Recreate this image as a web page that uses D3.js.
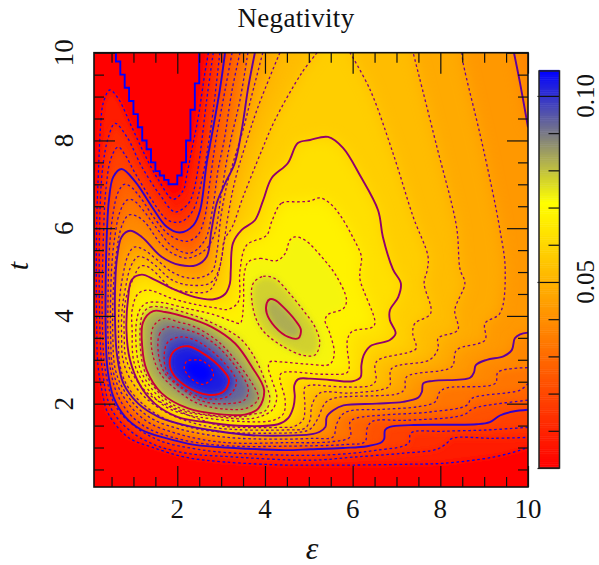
<!DOCTYPE html>
<html>
<head>
	<title>Negativity</title>
	<script src="https://d3js.org/d3.v7.min.js" charset="utf-8"></script>
	<style>
		html, body { margin: 0; padding: 0; background: #fff; }
		text { font-family: "Liberation Serif", serif; fill: #111; }
	</style>
</head>
<body>
	<div id="chart"></div>
	<script>
		// contours as [epsilon, t]
		// a third element marks a point that only closes the filled region
		var stair = [[0.6,10],[0.6,9.8],[0.7,9.8],[0.7,9.5],[0.8,9.5],[0.8,9.2],[0.9,9.2],[0.9,8.9],[1,8.9],[1,8.6],[1.1,8.6],[1.1,8.3],[1.2,8.3],[1.2,8],[1.3,8],[1.3,7.8],[1.4,7.8],[1.4,7.5],[1.5,7.5],[1.5,7.3],[1.6,7.3],[1.6,7.2],[1.7,7.2],[1.7,7.1],[1.8,7.1],[1.8,7],[2,7],[2,7.2],[2.1,7.2],[2.1,7.5],[2.2,7.5],[2.2,8],[2.3,8],[2.3,8.7],[2.4,8.7],[2.4,9.3],[2.5,9.3],[2.5,10]];

		var c005 = [[[2.71,10],[2.63,9.54],[2.48,8.54],[2.33,7.78],[2.21,7.17],[2.14,6.87],[1.91,6.66],[1.57,7.1],[1.26,7.67],[0.96,8.31],[0.65,8.96],[0.46,9.15],[0.31,8.85],[0.25,8.31],[0.2,7.26],[0.16,6.02],[0.16,3.9],[0.19,2.88],[0.28,2.31],[0.42,1.78],[0.88,1.23],[1.42,1.01],[2.18,0.78],[3.09,0.67],[4.46,0.6],[5.03,0.6],[6,0.6],[7.31,0.62],[8.06,0.64],[9.2,0.78],[9.82,0.94],[10,1.01],[11,1.01,0],[11,11,0],[2.71,11,0]]];
		var c010 = [[[2.82,10],[2.67,8.92],[2.48,7.4],[2.36,6.8],[2.25,6.56],[1.95,6.37],[1.61,6.75],[1.19,7.4],[0.85,8.08],[0.58,8.39],[0.43,8.08],[0.31,7.48],[0.24,6.49],[0.23,3.9],[0.3,2.69],[0.49,1.89],[0.91,1.39],[1.51,1.05],[2.27,0.86],[3.04,0.8],[5.03,0.71],[6,0.78],[7.15,0.87],[7.92,0.96],[8.15,1.1],[8.27,1.21],[9.2,1.21],[10,1.23],[11,1.23,0],[11,11,0],[2.82,11,0]]];
		var c015 = [[[2.97,10],[2.78,8.39],[2.56,7.1],[2.36,6.41],[2.1,6.15],[1.79,6.18],[1.42,6.64],[1.04,7.25],[0.81,7.67],[0.65,7.85],[0.49,7.6],[0.37,6.87],[0.32,5.96],[0.29,3.9],[0.37,2.69],[0.6,1.93],[1.1,1.43],[1.67,1.13],[2.35,0.98],[3.04,0.89],[5.03,0.82],[6,0.87],[6.55,0.94],[7.15,1.03],[7.29,1.12],[7.33,1.33],[8.06,1.37],[9.06,1.4],[10,1.46],[11,1.46,0],[11,11,0],[2.97,11,0]]];
		var c020 = [[[3.09,10],[2.97,9.15],[2.78,8.08],[2.67,7.48],[2.52,6.41],[2.37,6.07],[2.06,5.9],[1.76,6.03],[1.42,6.49],[1.04,7.06],[0.73,7.35],[0.54,7.17],[0.44,6.64],[0.4,6.03],[0.37,5.04],[0.37,3.52],[0.41,2.77],[0.54,2.16],[0.81,1.7],[1.19,1.4],[1.72,1.22],[2.4,1.06],[3.3,0.99],[4.46,0.94],[5.03,0.96],[5.78,0.99],[6.33,1.03],[6.66,1.12],[6.72,1.2],[6.74,1.4],[6.85,1.47],[7.31,1.51],[8.06,1.52],[8.83,1.53],[9.13,1.58],[9.36,1.73],[9.66,1.82],[10,1.86],[11,1.86,0],[11,11,0],[3.09,11,0]]];
		var c025 = [[[3.25,10],[3.09,9.15],[2.88,8.01],[2.75,7.1],[2.61,6.18],[2.45,5.82],[2.2,5.7],[1.83,5.84],[1.49,6.21],[1.15,6.71],[0.92,6.96],[0.79,7],[0.65,6.82],[0.53,6.3],[0.45,5.5],[0.42,4.36],[0.42,3.52],[0.48,2.76],[0.62,2.24],[0.9,1.78],[1.29,1.46],[1.83,1.25],[2.52,1.1],[3.32,1.03],[4.46,1.03],[5.87,1.07],[6.28,1.13],[6.33,1.44],[6.46,1.6],[7.23,1.62],[8.52,1.74],[8.75,1.89],[9.06,1.96],[10,2.08],[11,2.08,0],[11,11,0],[3.25,11,0]]];
		var c030 = [[[3.43,10],[3.25,9.15],[3.07,8.01],[2.93,7.33],[2.8,6.41],[2.63,5.73],[2.29,5.43],[1.88,5.59],[1.56,5.96],[1.22,6.41],[0.99,6.64],[0.85,6.64],[0.69,6.37],[0.58,5.84],[0.5,5.04],[0.48,3.52],[0.53,2.77],[0.69,2.31],[0.99,1.87],[1.38,1.55],[1.95,1.33],[2.63,1.17],[3.32,1.1],[4.46,1.11],[5.48,1.13],[5.94,1.24],[5.94,1.58],[6.09,1.67],[6.69,1.74],[7.76,1.81],[8.6,1.96],[8.72,2.12],[9.82,2.31],[10,2.46],[11,2.46,0],[11,11,0],[3.43,11,0]]];
		var c035 = [[[3.61,10],[3.43,8.92],[3.22,8.01],[3.11,7.44],[3,6.76],[2.84,5.84],[2.63,5.5],[2.24,5.32],[1.88,5.43],[1.61,5.66],[1.26,6.14],[1.06,6.28],[0.89,6.3],[0.74,6.07],[0.62,5.5],[0.54,4.59],[0.53,3.52],[0.58,2.81],[0.74,2.38],[1.06,1.94],[1.47,1.63],[2.06,1.42],[2.75,1.28],[3.43,1.21],[4.46,1.19],[5.1,1.21],[5.55,1.24],[5.64,1.55],[5.83,1.8],[6.69,1.87],[7.49,1.93],[7.88,2.04],[7.99,2.27],[8.15,2.36],[9.25,2.46],[9.32,2.72],[10,2.82],[11,2.82,0],[11,11,0],[3.61,11,0]]];
		var c040 = [[[3.77,10],[3.62,9.22],[3.47,8.24],[3.31,7.48],[3.09,7.02],[2.9,6.57],[2.78,5.96],[2.67,5.35],[2.44,5.16],[2.06,5.16],[1.64,5.35],[1.19,5.8],[0.92,5.94],[0.73,5.8],[0.63,5.35],[0.59,4.9],[0.58,3.9],[0.62,3.15],[0.77,2.46],[1.11,2],[1.57,1.7],[2.17,1.51],[2.93,1.37],[3.7,1.28],[4.46,1.27],[5.03,1.3],[5.25,1.36],[5.38,1.47],[5.41,1.7],[5.56,1.85],[5.79,1.96],[6.55,2],[7.15,2.04],[7.5,2.14],[7.58,2.27],[7.61,2.46],[7.84,2.52],[8.68,2.59],[8.77,2.72],[8.81,2.88],[9.06,3],[9.44,3.08],[9.63,3.22],[9.7,3.49],[9.82,3.58],[10,3.62],[11,3.62,0],[11,8.3,0],[10,8.3],[9.82,9.3],[9.68,10],[9.68,11,0],[3.77,11,0]]];
		var c045 = [[[3.95,10],[3.7,9.03],[3.5,8.24],[3.29,7.55],[3.13,6.98],[3,6.3],[2.91,5.5],[2.81,5.04],[2.63,4.91],[2.29,4.86],[1.88,5],[1.49,5.32],[1.22,5.52],[1.02,5.57],[0.88,5.39],[0.76,4.93],[0.68,4.36],[0.66,3.52],[0.69,2.88],[0.85,2.42],[1.17,2.03],[1.65,1.69],[2.29,1.46],[3.04,1.35],[4.46,1.33],[4.8,1.35],[5.03,1.42],[5.19,1.63],[5.37,2.01],[5.55,2.12],[7.08,2.24],[7.19,2.35],[7.23,2.61],[8.26,2.84],[8.37,3.22],[9.02,3.45],[9.02,3.83],[9.36,4.06],[9.48,5.04],[9.36,5.96],[8.97,7.86],[8.52,9.77],[8.49,10],[8.49,11,0],[3.95,11,0]]];
		var c050 = [[[4.34,10],[3.84,8.76],[3.54,7.85],[3.32,7.1],[3.16,6.3],[3.02,5.39],[2.93,5],[2.75,4.75],[2.29,4.7],[1.88,4.82],[1.49,5.16],[1.26,5.32],[1.1,5.35],[0.94,5.13],[0.83,4.7],[0.74,4.13],[0.73,3.52],[0.76,3],[0.94,2.54],[1.29,2.12],[1.79,1.78],[2.4,1.55],[3.04,1.43],[4.46,1.4],[4.91,1.44],[5.03,1.63],[5.07,1.96],[5.25,2.24],[5.94,2.24],[6.74,2.34],[6.85,2.42],[6.89,2.8],[7.76,3],[7.95,3.26],[7.95,3.49],[8.4,3.68],[8.33,4.13],[8.56,4.75],[8.45,5.06],[8.37,6.03],[7.92,7.86],[7.38,10],[7.38,11,0],[4.34,11,0]]];
		var c055 = [[[5.19,10],[4.84,9.54],[4.23,8.47],[3.93,7.78],[3.5,6.71],[3.25,6.02],[3.07,5.73],[3.02,5.35],[2.86,4.75],[2.7,4.56],[2.29,4.54],[1.88,4.63],[1.49,5],[1.31,5.13],[1.15,5.13],[1.01,4.88],[0.82,4.36],[0.79,3.52],[0.83,3.03],[1.04,2.58],[1.38,2.19],[1.95,1.87],[2.52,1.64],[3.04,1.49],[4.46,1.46],[4.64,1.47],[4.87,1.63],[4.91,1.96],[4.91,2.37],[5.03,2.42],[5.78,2.38],[6.43,2.42],[6.53,2.53],[6.51,2.88],[6.59,3],[7.31,3.18],[7.45,3.26],[7.37,3.61],[7.42,3.83],[7.78,4.06],[7.63,4.75],[7.7,5.04],[7.72,5.35],[7.38,6.26],[6.92,7.71],[6.4,9.15],[5.94,10],[5.94,11,0],[5.19,11,0]]];
		var c060 = [[[5.44,8.08],[5.78,7.83],[6.17,7.2],[6.58,6.41],[6.69,5.8],[6.92,5.06],[7.1,4.74],[7.04,4.43],[6.85,4.13],[6.85,3.9],[6.98,3.6],[6.85,3.45],[6.4,3.31],[6.25,3.1],[6.2,2.88],[6.18,2.6],[6,2.51],[5.48,2.54],[5.03,2.57],[4.76,2.56],[4.67,2.42],[4.68,2.15],[4.65,1.93],[4.53,1.67],[4.3,1.53],[3.54,1.49],[2.78,1.56],[2,1.7],[1.49,2],[1.15,2.42],[0.92,3],[0.84,3.68],[0.88,4.43],[0.96,4.82],[1.19,4.94],[1.49,4.82],[1.87,4.63],[2.4,4.43],[2.83,4.38],[3.09,4.5],[3.2,4.74],[3.22,5.04],[3.27,5.66],[3.47,5.96],[3.77,6.18],[3.96,6.64],[4.15,7.14],[4.52,7.48],[4.75,7.94],[5.03,8.01]]];
		var c065 = [[[4.15,6.14],[4.38,6.57],[4.75,6.6],[5.03,6.62],[5.25,6.69],[5.48,6.57],[5.71,6.3],[6,5.8],[6.2,5.35],[6.17,5.04],[6.17,4.82],[6.51,3.86],[6.46,3.75],[5.98,3.64],[5.88,3.45],[5.88,3.22],[5.92,2.81],[5.86,2.7],[5.32,2.67],[4.38,2.7],[4.34,2.58],[4.46,2.08],[4.42,1.77],[4.19,1.62],[3.54,1.59],[2.52,1.69],[2.13,1.77],[1.72,1.94],[1.38,2.26],[1.02,2.92],[0.97,3.68],[0.97,4.13],[1.1,4.5],[1.33,4.59],[1.87,4.4],[2.47,4.25],[2.9,4.18],[3.16,4.15],[3.39,4.32],[3.43,5.04],[3.58,5.61],[4.04,5.84]]];
		var c070 = [[[3.62,5.23],[3.89,5.31],[4.27,5.26],[4.46,5.42],[4.57,5.73],[4.68,5.8],[4.91,5.73],[5.29,5.35],[5.64,4.89],[5.86,4.36],[5.79,4.17],[5.44,4.03],[5.37,3.9],[5.48,3.6],[5.58,3.14],[5.48,2.9],[4.98,2.9],[4.38,2.95],[4.11,2.95],[4.08,2.8],[4.16,2.53],[4.27,2.15],[4.16,1.85],[3.84,1.69],[3.54,1.65],[2.63,1.74],[2.13,1.83],[1.72,2.03],[1.38,2.39],[1.13,2.86],[1.06,3.79],[1.15,4.15],[1.29,4.29],[1.6,4.31],[2.18,4.18],[2.86,4.02],[3.24,3.88],[3.43,3.83],[3.47,3.9],[3.51,4.28],[3.53,4.97]]];
		var c075 = [
			[[1.22,4.06],[1.38,4.2],[1.67,4.2],[2.29,4.04],[2.86,3.81],[3.43,3.49],[3.77,3.04],[4.05,2.38],[4.11,2.08],[4,1.83],[3.66,1.75],[3.54,1.71],[2.75,1.74],[2.13,1.87],[1.72,2.11],[1.38,2.51],[1.22,2.85],[1.15,3.68]],
			[[3.73,4.74],[3.96,4.9],[4.23,4.85],[4.53,4.55],[4.87,4.13],[5.14,3.75],[5.25,3.38],[5.14,3.11],[4.84,3.11],[4.42,3.3],[4,3.61],[3.81,3.9],[3.7,4.36]]
		];
		var c080 = [
			[[1.45,4.11],[1.22,3.86],[1.2,3.3],[1.3,2.77],[1.64,2.24],[2.25,1.89],[2.94,1.76],[3.54,1.75],[3.85,1.89],[3.98,2.31],[3.7,2.84],[3.32,3.37],[2.78,3.75],[2.17,3.98],[1.72,4.09]],
			[[4.11,4.38],[4.04,4.29],[4.04,4.06],[4.23,3.75],[4.53,3.52],[4.76,3.49],[4.82,3.68],[4.69,3.9],[4.42,4.2],[4.23,4.36]]
		];
		var c085 = [[[1.68,3.94],[1.45,3.75],[1.42,3.22],[1.61,2.69],[1.99,2.31],[2.48,2],[3.16,1.87],[3.62,1.91],[3.85,2.12],[3.73,2.42],[3.39,2.91],[2.94,3.41],[2.4,3.75],[2.03,3.86]]];
		var c090 = [[[1.79,3.75],[1.6,3.6],[1.57,3.14],[1.72,2.69],[2.1,2.35],[2.56,2.06],[3.16,2],[3.54,2.09],[3.62,2.35],[3.39,2.76],[3.01,3.22],[2.56,3.56],[2.1,3.71]]];
		var c095 = [[[2.1,3.52],[1.79,3.41],[1.7,3.07],[1.78,2.69],[2.1,2.38],[2.63,2.12],[3.16,2.17],[3.35,2.5],[3.09,2.91],[2.71,3.26],[2.4,3.45]]];
		var c100 = [[[2.25,3.31],[1.95,3.22],[1.83,3],[1.88,2.72],[2.17,2.42],[2.71,2.2],[3.05,2.27],[3.18,2.54],[2.93,2.88],[2.55,3.17]]];
		var c105 = [[[2.4,3],[2.21,2.96],[2.16,2.8],[2.33,2.56],[2.59,2.44],[2.82,2.62],[2.75,2.84],[2.55,2.98]]];

		var levels = [0.005,0.01,0.015,0.02,0.025,0.03,0.035,0.04,0.045,0.05,0.055,0.06,0.065,0.07,0.075,0.08,0.085,0.09,0.095,0.1,0.105];
		var contourSets = [c005,c010,c015,c020,c025,c030,c035,c040,c045,c050,c055,c060,c065,c070,c075,c080,c085,c090,c095,c100,c105];

		var xMajor = [2,4,6,8,10];
		var xMinor = [0.5,1,1.5,2.5,3,3.5,4.5,5,5.5,6.5,7,7.5,8.5,9,9.5];
		var yMajor = [2,4,6,8,10];
		var yMinor = [0.5,1,1.5,2.5,3,3.5,4.5,5,5.5,6.5,7,7.5,8.5,9,9.5];
		var barMajor = [0,0.05,0.1];
		var barMinor = [0.01,0.02,0.03,0.04,0.06,0.07,0.08,0.09];

		var w = 599, h = 565;
		var left = 94, right = 528, top_ = 52.7, bottom = 487;

		var x = d3.scaleLinear().domain([0.1,10]).range([left,right]);
		var y = d3.scaleLinear().domain([0.1,10]).range([bottom,top_]);
		var barY = d3.scaleLinear().domain([0,0.1067]).range([468,71]);

		// palette: red to yellow to blue
		var heat = d3.scaleLinear().domain([0,0.0711,0.1067]).range(["#ff0000","#ffff00","#0000ff"]).clamp(true);
		var lineColor = d3.scaleLinear().domain([0,0.105]).range(["#0000ff","#ff0000"]).clamp(true);

		var svg = d3.select("#chart").append("svg")
			.attr("width",w)
			.attr("height",h)
			.style("display","block");

		var defs = svg.append("defs");
		defs.append("clipPath").attr("id","plotClip").append("rect")
			.attr("x",left).attr("y",top_).attr("width",right-left).attr("height",bottom-top_);
		function blurFilter(id,amount) {
			defs.append("filter").attr("id",id)
				.attr("filterUnits","userSpaceOnUse")
				.attr("x",0).attr("y",0).attr("width",w).attr("height",h)
				.append("feGaussianBlur").attr("stdDeviation",amount);
		}
		blurFilter("soft",3);
		blurFilter("wide",7);

		var plot = svg.append("g").attr("clip-path","url(#plotClip)");

		// filled bands, one region per contour level, painted low to high
		// the wide bands on the right get the stronger blur so no step shows
		var fillLine = d3.line().x(function(d) { return x(d[0]); }).y(function(d) { return y(d[1]); });
		plot.append("rect")
			.attr("x",left).attr("y",top_).attr("width",right-left).attr("height",bottom-top_)
			.attr("fill",heat(0));
		levels.forEach(function(level,i) {
			var filter = (level>=0.04 && level<=0.065) ? "url(#wide)" : "url(#soft)";
			contourSets[i].forEach(function(poly) {
				plot.append("path")
					.attr("d",fillLine(poly)+"Z")
					.attr("fill",heat(level+0.0025))
					.attr("filter",filter);
			});
		});

		// contour lines
		var openLine = d3.line()
			.defined(function(d) { return d.length==2; })
			.curve(d3.curveCatmullRom.alpha(0.5))
			.x(function(d) { return x(d[0]); }).y(function(d) { return y(d[1]); });
		var closedLine = d3.line()
			.curve(d3.curveCatmullRomClosed.alpha(0.5))
			.x(function(d) { return x(d[0]); }).y(function(d) { return y(d[1]); });
		levels.forEach(function(level,i) {
			var solid = Math.round(level*1000)%20==0;
			contourSets[i].forEach(function(poly) {
				var isOpen = poly.some(function(d) { return d.length==3; }) || poly[0][1]==10;
				plot.append("path")
					.attr("d",isOpen ? openLine(poly) : closedLine(poly))
					.attr("fill","none")
					.attr("stroke",lineColor(level))
					.attr("stroke-width",solid ? 1.9 : 1.3)
					.attr("stroke-dasharray",solid ? null : "2.6,2.6");
			});
		});
		plot.append("path")
			.attr("d",fillLine(stair))
			.attr("fill","none")
			.attr("stroke","#0000ff")
			.attr("stroke-width",1.9);

		// ticks on all four sides
		function ticks(axis,translate,values,size) {
			var g = svg.append("g").attr("transform",translate)
				.call(axis.tickValues(values).tickSize(size).tickFormat(""));
			g.select(".domain").remove();
			g.selectAll("line").attr("stroke","#111").attr("stroke-width",1.2);
		}
		ticks(d3.axisBottom(x),"translate(0,"+bottom+")",xMajor,-21);
		ticks(d3.axisBottom(x),"translate(0,"+bottom+")",xMinor,-10);
		ticks(d3.axisTop(x),"translate(0,"+top_+")",xMajor,-21);
		ticks(d3.axisTop(x),"translate(0,"+top_+")",xMinor,-10);
		ticks(d3.axisLeft(y),"translate("+left+",0)",yMajor,-21);
		ticks(d3.axisLeft(y),"translate("+left+",0)",yMinor,-10);
		ticks(d3.axisRight(y),"translate("+right+",0)",yMajor,-21);
		ticks(d3.axisRight(y),"translate("+right+",0)",yMinor,-10);

		svg.append("rect")
			.attr("x",left).attr("y",top_).attr("width",right-left).attr("height",bottom-top_)
			.attr("fill","none").attr("stroke","#111").attr("stroke-width",1.6);

		// tick labels
		svg.append("g").selectAll("text").data(xMajor).enter().append("text")
			.attr("x",function(d) { return x(d); })
			.attr("y",518)
			.attr("text-anchor","middle")
			.style("font-size","27px")
			.text(function(d) { return d; });
		svg.append("g").selectAll("text").data(yMajor).enter().append("text")
			.attr("transform",function(d) { return "translate(73,"+y(d)+") rotate(-90)"; })
			.attr("text-anchor","middle")
			.style("font-size","27px")
			.text(function(d) { return d; });

		// titles
		svg.append("text").attr("x",296).attr("y",27).attr("text-anchor","middle")
			.style("font-size","27px").style("letter-spacing","0.3px").text("Negativity");
		svg.append("text").attr("x",312).attr("y",559).attr("text-anchor","middle")
			.style("font-size","32px").style("font-style","italic").text("ε");
		svg.append("text").attr("transform","translate(28,266) rotate(-90)").attr("text-anchor","middle")
			.style("font-size","30px").style("font-style","italic").text("t");

		// colour bar
		var barX = 539, barW = 20.5;
		svg.append("g").selectAll("rect").data(d3.range(0,0.1067,0.0005)).enter().append("rect")
			.attr("x",barX)
			.attr("width",barW)
			.attr("y",function(d) { return barY(d+0.0005); })
			.attr("height",function(d) { return barY(d)-barY(d+0.0005)+0.5; })
			.attr("fill",function(d) { return heat(d); });
		ticks(d3.axisLeft(barY),"translate("+(barX+barW)+",0)",barMajor,22);
		ticks(d3.axisLeft(barY),"translate("+(barX+barW)+",0)",barMinor,11);
		svg.append("rect")
			.attr("x",barX).attr("y",barY(0.1067)).attr("width",barW).attr("height",barY(0)-barY(0.1067))
			.attr("fill","none").attr("stroke","#222").attr("stroke-width",1.5);
		svg.append("g").selectAll("text").data([0.05,0.1]).enter().append("text")
			.attr("transform",function(d) { return "translate(594,"+barY(d)+") rotate(-90)"; })
			.attr("text-anchor","middle")
			.style("font-size","25px")
			.text(function(d) { return d3.format(".2f")(d); });
	</script>
</body>
</html>
